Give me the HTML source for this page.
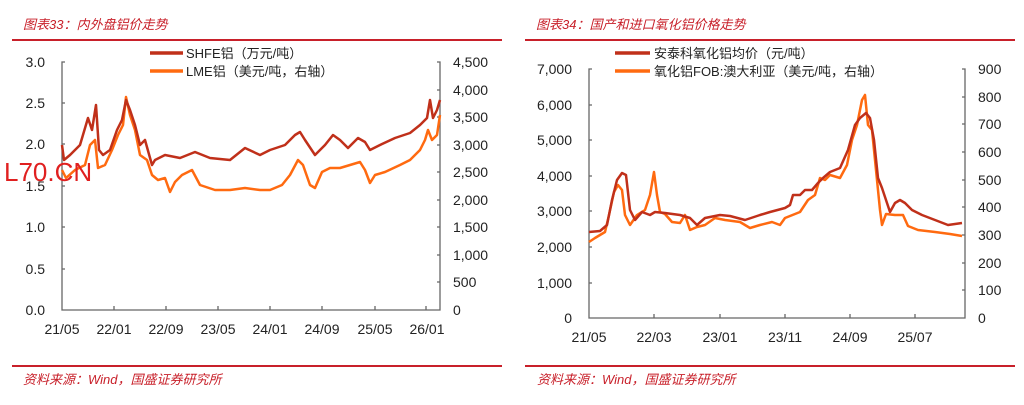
<!DOCTYPE html>
<html><head><meta charset="utf-8"><style>
body{margin:0;background:#fff;width:1024px;height:400px;overflow:hidden}
svg text{font-family:"Liberation Sans","Noto Sans CJK SC",sans-serif}
</style></head><body>
<svg width="1024" height="400" xmlns="http://www.w3.org/2000/svg">
<g font-size="13" fill="#c8202a" font-style="italic">
<text x="23" y="29">图表33：内外盘铝价走势</text>
<text x="536" y="29">图表34：国产和进口氧化铝价格走势</text>
<text x="23" y="384">资料来源：Wind，国盛证券研究所</text>
<text x="537" y="384">资料来源：Wind，国盛证券研究所</text>
</g>
<g stroke="#c8202a" stroke-width="2">
<line x1="12" y1="40" x2="502" y2="40"/><line x1="525" y1="40" x2="1015" y2="40"/>
<line x1="12" y1="366" x2="502" y2="366"/><line x1="525" y1="366" x2="1015" y2="366"/>
</g>
<!-- left chart -->
<g stroke="#666" stroke-width="1.3" fill="none">
<polyline points="65,62 62,62 62,310 440,310 440,62 437,62"/>
<path d="M62,103h3M62,144h3M62,186h3M62,227h3M62,269h3M437,90h3M437,117h3M437,145h3M437,172h3M437,200h3M437,227h3M437,255h3M437,282h3M114,310v-4M166,310v-4M218,310v-4M270,310v-4M322,310v-4M375,310v-4M426,310v-4"/>
</g>
<g font-size="14" fill="#222" text-anchor="end">
<text x="45" y="67">3.0</text><text x="45" y="108">2.5</text><text x="45" y="149">2.0</text><text x="45" y="191">1.5</text><text x="45" y="232">1.0</text><text x="45" y="274">0.5</text><text x="45" y="315">0.0</text>
</g>
<g font-size="14" fill="#222">
<text x="453" y="67">4,500</text><text x="453" y="95">4,000</text><text x="453" y="122">3,500</text><text x="453" y="150">3,000</text><text x="453" y="177">2,500</text><text x="453" y="205">2,000</text><text x="453" y="232">1,500</text><text x="453" y="260">1,000</text><text x="453" y="287">500</text><text x="453" y="315">0</text>
</g>
<g font-size="14" fill="#222" text-anchor="middle">
<text x="62" y="334">21/05</text><text x="114" y="334">22/01</text><text x="166" y="334">22/09</text><text x="218" y="334">23/05</text><text x="270" y="334">24/01</text><text x="322" y="334">24/09</text><text x="375" y="334">25/05</text><text x="427" y="334">26/01</text>
</g>
<polyline fill="none" stroke="#ff6a10" stroke-width="2.5" stroke-linejoin="round" points="62,170 66,178 75,170 85,165 90,145 95,140 98,168 105,165 112,150 118,135 123,125 126,97 130,115 135,130 140,155 147,160 152,175 158,180 165,178 170,192 175,182 182,175 192,170 200,185 215,190 230,190 245,188 260,190 270,190 282,185 290,175 298,160 303,165 310,185 315,188 322,172 330,168 340,168 350,165 360,162 365,170 370,183 375,175 385,172 400,165 410,160 420,150 425,140 428,130 432,140 437,135 440,115"/>
<polyline fill="none" stroke="#c0301a" stroke-width="2.5" stroke-linejoin="round" points="62,145 64,160 70,155 80,145 88,118 92,130 96,105 99,150 103,155 110,150 117,130 122,120 126,100 130,110 135,125 140,145 145,140 152,165 155,160 165,155 180,158 195,152 210,158 230,160 245,148 260,155 270,150 285,145 295,135 300,132 305,140 315,155 325,145 333,135 340,140 348,148 358,138 365,142 370,150 380,145 395,138 410,133 420,125 427,118 430,100 433,118 437,110 440,100"/>
<line x1="150" y1="53" x2="183" y2="53" stroke="#c0301a" stroke-width="3.5"/>
<line x1="150" y1="71" x2="183" y2="71" stroke="#ff6a10" stroke-width="3.5"/>
<g font-size="13" fill="#222"><text x="186" y="58">SHFE铝（万元/吨）</text><text x="186" y="76">LME铝（美元/吨，右轴）</text></g>
<text x="4" y="181" font-size="26" fill="#e02020">L70.CN</text>
<!-- right chart -->
<g stroke="#666" stroke-width="1.3" fill="none">
<polyline points="592,69 589,69 589,318 965,318 965,69 962,69"/>
<path d="M589,105h3M589,140h3M589,176h3M589,211h3M589,247h3M589,283h3M962,97h3M962,124h3M962,152h3M962,180h3M962,207h3M962,235h3M962,263h3M962,290h3M654,318v-4M720,318v-4M785,318v-4M850,318v-4M915,318v-4"/>
</g>
<g font-size="14" fill="#222" text-anchor="end">
<text x="572" y="74">7,000</text><text x="572" y="110">6,000</text><text x="572" y="145">5,000</text><text x="572" y="181">4,000</text><text x="572" y="216">3,000</text><text x="572" y="252">2,000</text><text x="572" y="288">1,000</text><text x="572" y="323">0</text>
</g>
<g font-size="14" fill="#222">
<text x="978" y="74">900</text><text x="978" y="102">800</text><text x="978" y="129">700</text><text x="978" y="157">600</text><text x="978" y="185">500</text><text x="978" y="212">400</text><text x="978" y="240">300</text><text x="978" y="268">200</text><text x="978" y="295">100</text><text x="978" y="323">0</text>
</g>
<g font-size="14" fill="#222" text-anchor="middle">
<text x="589" y="342">21/05</text><text x="654" y="342">22/03</text><text x="720" y="342">23/01</text><text x="785" y="342">23/11</text><text x="850" y="342">24/09</text><text x="915" y="342">25/07</text>
</g>
<polyline fill="none" stroke="#ff6a10" stroke-width="2.5" stroke-linejoin="round" points="589,242 595,238 605,232 609,215 614,192 618,185 622,190 625,215 630,225 637,215 645,210 650,195 654,172 657,195 660,212 665,214 672,222 680,223 685,215 690,230 697,227 705,225 715,218 725,220 740,222 750,228 760,225 772,222 780,225 785,218 800,212 808,200 815,195 820,178 825,180 830,175 840,178 847,165 852,140 857,125 862,100 865,95 868,125 872,130 876,170 880,210 882,225 886,214 895,215 903,215 908,226 918,230 935,232 950,234 962,236"/>
<polyline fill="none" stroke="#c0301a" stroke-width="2.5" stroke-linejoin="round" points="589,232 600,231 607,225 612,200 617,180 622,173 626,175 630,210 635,220 642,212 650,215 655,212 665,213 680,215 690,218 697,225 705,218 720,215 730,216 745,220 760,215 770,212 785,208 790,205 793,195 800,195 805,190 812,190 818,183 823,178 830,172 840,168 848,150 855,125 860,118 866,113 870,118 874,140 878,178 882,188 886,200 890,212 895,203 900,200 905,203 912,210 922,215 935,220 948,225 962,223"/>
<line x1="615" y1="53" x2="650" y2="53" stroke="#c0301a" stroke-width="3.5"/>
<line x1="615" y1="71" x2="650" y2="71" stroke="#ff6a10" stroke-width="3.5"/>
<g font-size="13" fill="#222"><text x="654" y="58">安泰科氧化铝均价（元/吨）</text><text x="654" y="76">氧化铝FOB:澳大利亚（美元/吨，右轴）</text></g>
</svg>
</body></html>
